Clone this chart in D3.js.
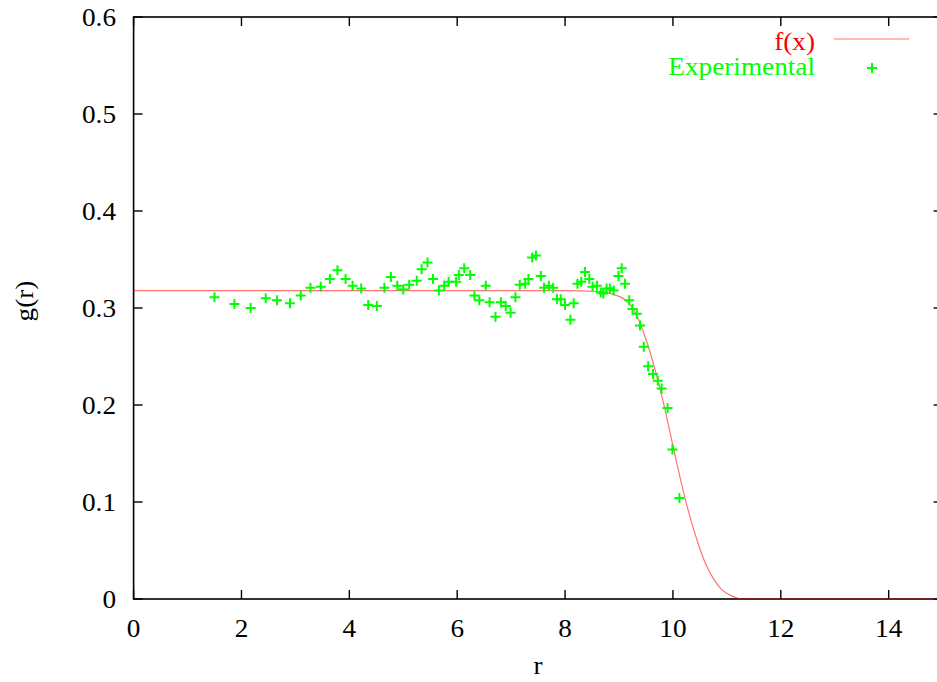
<!DOCTYPE html>
<html>
<head>
<meta charset="utf-8">
<script src="https://cdn.jsdelivr.net/npm/d3@7"></script>
<style>
  html, body { margin: 0; padding: 0; background: #ffffff; overflow: hidden; }
  svg { display: block; }
  text { font-family: "Liberation Serif", "DejaVu Serif", serif; }
</style>
</head>
<body>
<svg id="chart" width="937" height="682"></svg>
<script>
// ---- data ----
const expX = [1.50, 1.87, 2.17, 2.45, 2.66, 2.90, 3.10, 3.28, 3.47, 3.64, 3.78, 3.93, 4.06, 4.22, 4.35, 4.51, 4.65, 4.77, 4.89, 5.00,
              5.11, 5.25, 5.34, 5.45, 5.55, 5.66, 5.76, 5.84, 5.98, 6.03, 6.13, 6.24, 6.32, 6.41, 6.53, 6.60, 6.71, 6.81, 6.90, 6.99,
              7.08, 7.16, 7.26, 7.32, 7.39, 7.46, 7.55, 7.61, 7.70, 7.78, 7.85, 7.92, 8.00, 8.10, 8.16, 8.23, 8.30, 8.37, 8.45, 8.51,
              8.59, 8.66, 8.71, 8.77, 8.83, 8.90, 8.99, 9.05, 9.11, 9.19, 9.25, 9.33, 9.39, 9.46, 9.54, 9.63, 9.72, 9.79, 9.90, 9.99, 10.12];
const expY = [0.311, 0.304, 0.300, 0.310, 0.308, 0.305, 0.313, 0.321, 0.322, 0.330, 0.339, 0.330, 0.323, 0.320, 0.303, 0.302, 0.321, 0.332, 0.323, 0.319,
              0.324, 0.328, 0.340, 0.347, 0.330, 0.318, 0.323, 0.327, 0.327, 0.334, 0.341, 0.334, 0.313, 0.308, 0.323, 0.306, 0.291, 0.306, 0.302, 0.295,
              0.311, 0.324, 0.325, 0.330, 0.352, 0.354, 0.333, 0.321, 0.323, 0.321, 0.309, 0.309, 0.303, 0.288, 0.305, 0.325, 0.327, 0.337, 0.330, 0.322,
              0.323, 0.316, 0.315, 0.320, 0.320, 0.318, 0.333, 0.341, 0.325, 0.308, 0.299, 0.294, 0.282, 0.260, 0.240, 0.232, 0.225, 0.217, 0.197, 0.154, 0.104];

const curveX = [0, 8.0, 8.6, 8.9, 9.1, 9.25, 9.4, 9.55, 9.7, 9.85, 10.0, 10.15, 10.3, 10.45, 10.6, 10.75, 10.9, 11.1, 11.3, 15];
const curveY = [0.318, 0.318, 0.317, 0.314, 0.309, 0.300, 0.283, 0.259, 0.230, 0.196, 0.158, 0.121, 0.088, 0.060, 0.037, 0.021, 0.010, 0.003, 0.0, 0.0];

const xTicks = [0, 2, 4, 6, 8, 10, 12, 14];
const yTicks = [0, 0.1, 0.2, 0.3, 0.4, 0.5, 0.6];
const xTickLabels = ["0", "2", "4", "6", "8", "10", "12", "14"];
const yTickLabels = ["0", "0.1", "0.2", "0.3", "0.4", "0.5", "0.6"];

const seriesNames = ["f(x)", "Experimental"];
const xLabel = "r";
const yLabel = "g(r)";

// ---- layout ----
const svg = d3.select("#chart");
const padL = 133.6, padR = 942.6, padT = 17, padB = 599;
const FS = 25, SX = 1.09;   // font size and horizontal stretch of the reference text

const x = d3.scaleLinear().domain([0, 15]).range([padL, padR]);
const y = d3.scaleLinear().domain([0, 0.6]).range([padB, padT]);

function label(g, txt, px, py, anchor, color, rotate) {
  return g.append("text")
    .attr("transform", `translate(${px},${py})` + (rotate ? ` rotate(${rotate})` : "") + ` scale(${SX},1)`)
    .attr("text-anchor", anchor)
    .attr("font-size", FS)
    .attr("fill", color || "#000")
    .text(txt);
}

// frame
svg.append("rect")
  .attr("x", padL).attr("y", padT)
  .attr("width", padR - padL).attr("height", padB - padT)
  .attr("fill", "none").attr("stroke", "#000").attr("stroke-width", 1.6);

const tickLen = 9;
const axG = svg.append("g");
xTicks.forEach((v, i) => {
  axG.append("line").attr("x1", x(v)).attr("x2", x(v)).attr("y1", padB).attr("y2", padB - tickLen)
    .attr("stroke", "#000").attr("stroke-width", 1.4);
  axG.append("line").attr("x1", x(v)).attr("x2", x(v)).attr("y1", padT).attr("y2", padT + tickLen)
    .attr("stroke", "#000").attr("stroke-width", 1.4);
  label(axG, xTickLabels[i], x(v), 637, "middle");
});
yTicks.forEach((v, i) => {
  axG.append("line").attr("x1", padL).attr("x2", padL + tickLen).attr("y1", y(v)).attr("y2", y(v))
    .attr("stroke", "#000").attr("stroke-width", 1.4);
  axG.append("line").attr("x1", padR).attr("x2", padR - tickLen).attr("y1", y(v)).attr("y2", y(v))
    .attr("stroke", "#000").attr("stroke-width", 1.4);
  label(axG, yTickLabels[i], 116, y(v) + 8.5, "end");
});

// axis titles
label(svg, xLabel, 538, 674, "middle");
label(svg, yLabel, 32.5, 301, "middle", "#000", -90);

// f(x) curve
const pts = curveX.map((v, i) => [v, curveY[i]]);
const line = d3.line().x(d => x(d[0])).y(d => y(d[1])).curve(d3.curveMonotoneX);
svg.append("path")
  .attr("d", line(pts))
  .attr("fill", "none")
  .attr("stroke", "#ff0000")
  .attr("stroke-opacity", 0.55)
  .attr("stroke-width", 1.2);

// experimental points
function drawPlus(g, cx, cy) {
  const h = 5;
  g.append("path")
    .attr("d", `M${cx - h},${cy}H${cx + h}M${cx},${cy - h}V${cy + h}`)
    .attr("stroke", "#00ff00").attr("stroke-width", 2).attr("fill", "none");
}
const ptG = svg.append("g");
expX.forEach((v, i) => drawPlus(ptG, x(v), y(expY[i])));

// legend
const lg = svg.append("g");
label(lg, seriesNames[0], 815, 49.5, "end", "#ff0000");
lg.append("line").attr("x1", 834).attr("x2", 909).attr("y1", 39).attr("y2", 39)
  .attr("stroke", "#ff0000").attr("stroke-opacity", 0.55).attr("stroke-width", 1.2);
label(lg, seriesNames[1], 815, 75, "end", "#00ff00");
drawPlus(lg, 872, 68);
</script>
</body>
</html>
